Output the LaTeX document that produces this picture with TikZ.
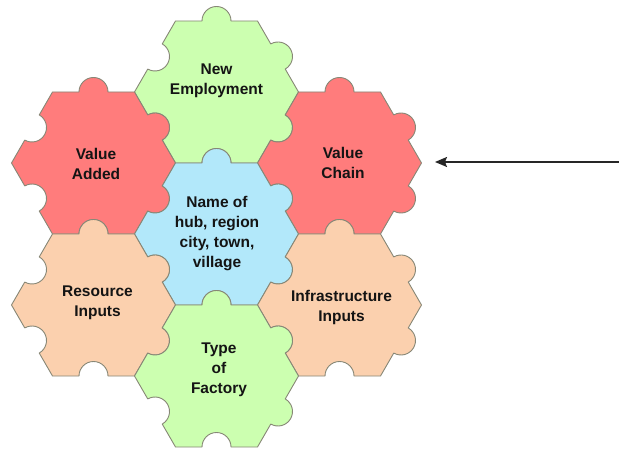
\documentclass[tikz,border=0pt]{standalone}
\usepackage{fontspec}
\setmainfont{Liberation Sans}
\usetikzlibrary{arrows.meta}
\definecolor{hexgreen}{RGB}{204,255,176}
\definecolor{hexred}{RGB}{255,124,124}
\definecolor{hexblue}{RGB}{178,232,250}
\definecolor{hexpeach}{RGB}{251,208,174}
\definecolor{hexline}{RGB}{135,135,118}
\definecolor{txt}{RGB}{20,20,20}
\def\hexR{82}
\def\tabr{14.5}
\def\tabd{72.48}
\def\taba{11.54}
\newcommand\hexpiece[3]{%
  \begin{scope}[shift={(#1,#2)}]
  \filldraw[piece, fill=#3] (0:\hexR)
    \foreach \n/\t in {30/1,90/1,150/-1,210/-1,270/-1,330/1}
      { -- ({\n-\taba}:\tabd) arc[start angle={\n-90}, delta angle={180*\t}, radius=\tabr] -- ({\n+30}:\hexR) }
    -- cycle;
  \end{scope}}
\begin{document}
\begin{tikzpicture}[x=1pt,y=1pt,
  piece/.style={draw=hexline, line width=0.9pt, line join=round},
  label/.style={align=center, text=txt, font=\fontsize{15.5}{20}\selectfont\bfseries, inner sep=0pt},
  pointer/.style={draw=black!85, line width=1.8pt, -{Stealth[length=12pt,width=10pt,inset=2pt]}}]
\useasboundingbox (0,0) rectangle (619,449);
\hexpiece{216.5}{357}{hexgreen}
\hexpiece{93.5}{286}{hexred}
\hexpiece{339.5}{286}{hexred}
\hexpiece{216.5}{215}{hexblue}
\hexpiece{93.5}{144}{hexpeach}
\hexpiece{339.5}{144}{hexpeach}
\hexpiece{216.5}{73}{hexgreen}
\node[label] (ne) at (216.5,368) {New\\Employment};
\node[label] (va) at (96,285.5) {Value\\Added};
\node[label] (vc) at (343,286) {Value\\Chain};
\node[label] (hub) at (217,215.5) {Name of\\hub, region\\city, town,\\village};
\node[label] (ri) at (97.5,146) {Resource\\Inputs};
\node[label] (tf) at (219,79.5) {Type\\of\\Factory};
\node[label] (ii) at (341.5,142) {Infrastructure\\Inputs};
\coordinate (arrowtail) at (619,287);
\coordinate (arrowtip) at (435,287);
\draw[pointer] (arrowtail) -- (arrowtip);
\end{tikzpicture}
\end{document}
